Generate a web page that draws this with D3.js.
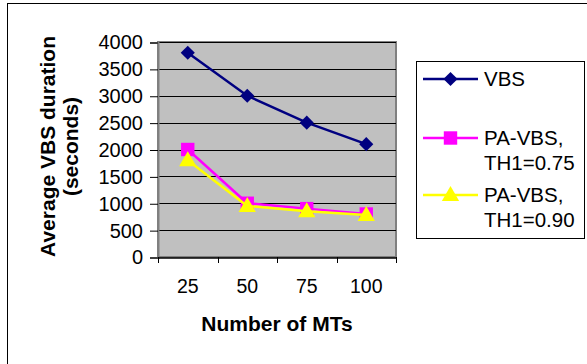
<!DOCTYPE html>
<html>
<head>
<meta charset="utf-8">
<script src="https://d3js.org/d3.v7.min.js"></script>
<style>
  body { margin: 0; background: #fff; }
  svg { display: block; font-family: "Liberation Sans", Arial, sans-serif; }
</style>
</head>
<body>
<svg width="587" height="364"></svg>
<script>
  // data
  var categories = ["25", "50", "75", "100"];
  var vbs = [3800, 3000, 2500, 2100];
  var pa075 = [2000, 1000, 900, 800];
  var pa090 = [1800, 950, 850, 780];
  var yTicks = [0, 500, 1000, 1500, 2000, 2500, 3000, 3500, 4000];

  var series = [
    { name: ["VBS"], values: vbs, color: "#000080", marker: "diamond" },
    { name: ["PA-VBS,", "TH1=0.75"], values: pa075, color: "#ff00ff", marker: "square" },
    { name: ["PA-VBS,", "TH1=0.90"], values: pa090, color: "#ffff00", marker: "triangle" }
  ];

  var svg = d3.select("svg");

  // outer chart border (only left/top show in the crop)
  svg.append("rect")
    .attr("x", 7.5).attr("y", 3.5)
    .attr("width", 600).attr("height", 400)
    .attr("fill", "#fff").attr("stroke", "#000").attr("stroke-width", 1);

  var pLeft = 158, pRight = 396, pTop = 42, pBottom = 257;

  var x = d3.scaleBand().domain(categories).range([pLeft, pRight]);
  var y = d3.scaleLinear().domain([0, 4000]).range([pBottom, pTop]);

  // plot area
  svg.append("rect")
    .attr("x", pLeft).attr("y", pTop)
    .attr("width", pRight - pLeft).attr("height", pBottom - pTop)
    .attr("fill", "#c0c0c0").attr("stroke", "#808080").attr("stroke-width", 2);

  // gridlines
  svg.append("g").selectAll("line")
    .data(yTicks.filter(function(d) { return d > 0; }))
    .enter().append("line")
    .attr("x1", pLeft).attr("x2", pRight)
    .attr("y1", function(d) { return Math.round(y(d)) + 0.5; })
    .attr("y2", function(d) { return Math.round(y(d)) + 0.5; })
    .attr("stroke", "#000").attr("stroke-width", 1);

  // y axis
  var yAxis = svg.append("g")
    .attr("transform", "translate(" + pLeft + ",0.5)")
    .call(d3.axisLeft(y).tickValues(yTicks).tickSize(8).tickPadding(7).tickFormat(d3.format("d")));
  yAxis.select(".domain").attr("stroke", "#808080").attr("stroke-width", 2);
  yAxis.selectAll(".tick line").attr("stroke", "#000");
  yAxis.selectAll("text").attr("font-size", 20).attr("fill", "#000")
    .attr("font-family", "Liberation Sans, Arial, sans-serif");

  // x axis
  var xAxis = svg.append("g")
    .attr("transform", "translate(0," + (pBottom + 0.5) + ")")
    .call(d3.axisBottom(x).tickSize(0).tickPadding(22));
  xAxis.select(".domain").attr("stroke", "#000").attr("stroke-width", 1.5);
  xAxis.selectAll("text").attr("font-size", 19.5).attr("fill", "#000")
    .attr("font-family", "Liberation Sans, Arial, sans-serif");

  // category boundary ticks
  var bounds = categories.map(function(c) { return x(c); }).concat([pRight]);
  svg.append("g").selectAll("line")
    .data(bounds).enter().append("line")
    .attr("x1", function(d) { return Math.round(d) + 0.5; })
    .attr("x2", function(d) { return Math.round(d) + 0.5; })
    .attr("y1", pBottom).attr("y2", pBottom + 6)
    .attr("stroke", "#000").attr("stroke-width", 1);

  // axis titles
  svg.append("text")
    .attr("x", (pLeft + pRight) / 2).attr("y", 331)
    .attr("text-anchor", "middle").attr("font-size", 21).attr("font-weight", "bold")
    .text("Number of MTs");

  var yTitle = svg.append("text")
    .attr("transform", "translate(0," + ((pTop + pBottom) / 2 - 3) + ") rotate(-90)")
    .attr("text-anchor", "middle").attr("font-size", 21).attr("font-weight", "bold");
  yTitle.append("tspan").attr("x", 0).attr("y", 55).text("Average VBS duration");
  yTitle.append("tspan").attr("x", 0).attr("y", 78).text("(seconds)");

  function cx(i) { return x(categories[i]) + x.bandwidth() / 2; }

  var line = d3.line()
    .x(function(d, i) { return cx(i); })
    .y(function(d) { return y(d); });

  var symbols = {
    diamond: d3.symbol().type(d3.symbolSquare).size(100),
    square: d3.symbol().type(d3.symbolSquare).size(180),
    triangle: d3.symbol().type(d3.symbolTriangle).size(130)
  };

  function drawMarker(g, s, px, py) {
    var p = g.append("path")
      .attr("d", symbols[s.marker]())
      .attr("fill", s.color);
    if (s.marker === "diamond") {
      p.attr("transform", "translate(" + px + "," + py + ") rotate(45)");
    } else if (s.marker === "triangle") {
      p.attr("transform", "translate(" + px + "," + (py + 1) + ")");
    } else {
      p.attr("transform", "translate(" + px + "," + py + ")");
    }
  }

  series.forEach(function(s) {
    var g = svg.append("g");
    g.append("path")
      .attr("d", line(s.values))
      .attr("fill", "none").attr("stroke", s.color).attr("stroke-width", 2.5);
    s.values.forEach(function(v, i) { drawMarker(g, s, cx(i), y(v)); });
  });

  // legend
  var lg = svg.append("g");
  lg.append("rect")
    .attr("x", 416.5).attr("y", 61.5).attr("width", 168).attr("height", 177)
    .attr("fill", "#fff").attr("stroke", "#000").attr("stroke-width", 1);

  var rowY = [79, 138, 195];
  series.forEach(function(s, i) {
    var ly = rowY[i];
    lg.append("line")
      .attr("x1", 423).attr("x2", 478).attr("y1", ly).attr("y2", ly)
      .attr("stroke", s.color).attr("stroke-width", 2.5);
    drawMarker(lg, s, 450.5, ly);
    s.name.forEach(function(t, j) {
      lg.append("text")
        .attr("x", 484).attr("y", ly + 7 + j * 25)
        .attr("font-size", 20.5).attr("fill", "#000")
        .text(t);
    });
  });
</script>
</body>
</html>
